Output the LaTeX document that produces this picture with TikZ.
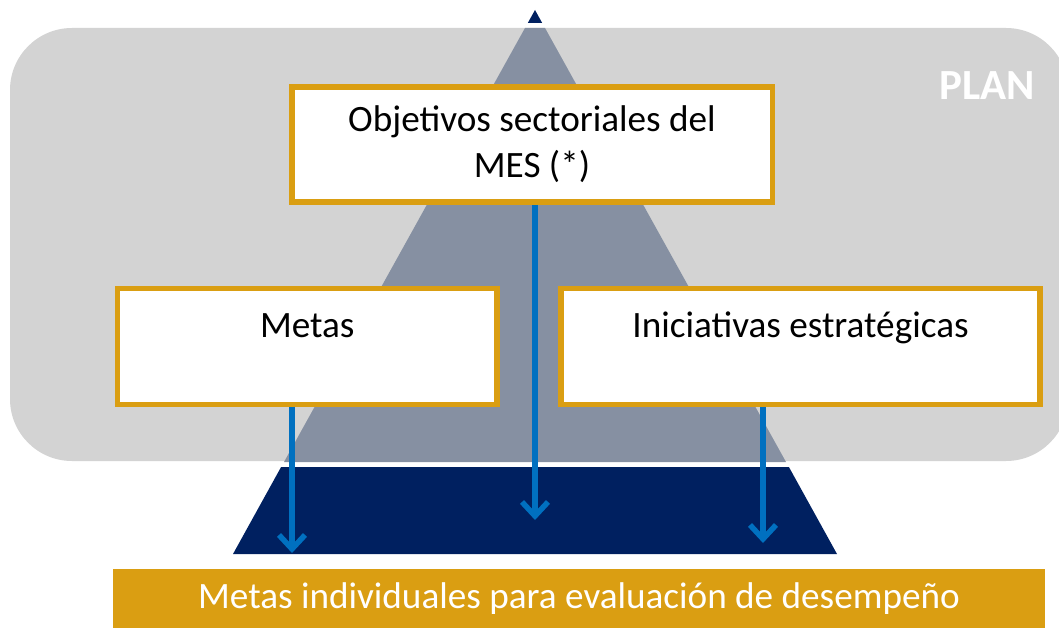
\documentclass[tikz,border=0pt]{standalone}
\usepackage{fontspec}
\setmainfont{Carlito}
\usetikzlibrary{positioning, arrows.meta}
\definecolor{planGray}{HTML}{D3D3D3}
\definecolor{slate}{HTML}{8690A2}
\definecolor{navy}{HTML}{002060}
\definecolor{gold}{HTML}{DA9E12}
\definecolor{arrowBlue}{HTML}{0070C0}

\begin{document}
\begin{tikzpicture}[
	x=1pt, y=-1pt,
	node distance = 58.5pt and 58.5pt,
	box/.style = {rectangle, draw=gold, fill=white, line width=5.5pt,
		inner sep=0pt, minimum width=#1, font=\fontsize{37.2}{46}\selectfont},
	goal/.style = {box=#1, text height=48.5pt, text depth=67.5pt},
	down/.style = {draw=arrowBlue, line width=5.5pt,
		-{Straight Barb[length=14pt, width=26pt]}}
	]
	\useasboundingbox (0,0) rectangle (1059,628);
	
	% plan area and pyramid
	\fill[planGray, rounded corners=62pt] (10,28) rectangle (1068,461);
	\fill[navy] (535,10) -- (542.2,23) -- (527.8,23) -- cycle;
	\fill[slate] (525,28) -- (545,28) -- (786,462) -- (284,462) -- cycle;
	\fill[navy] (281.1,467) -- (788.9,467) -- (837,554) -- (233,554) -- cycle;
	
	\node (plan) [font=\fontsize{43}{50}\selectfont\bfseries, text=white] at (987,86) {PLAN};
	
	\node (obj) [box=480.5pt, minimum height=115pt, align=center] at (532,144.5)
		{Objetivos sectoriales del\\MES (*)};
	\node (metas) [goal=379.5pt] at (307.25,346.5) {Metas};
	\node (inic) [goal=479pt, right=of metas] {Iniciativas estratégicas};
	
	\node (indiv) [fill=gold, text=white, inner sep=0pt, minimum width=932pt,
		minimum height=59pt, font=\fontsize{37.2}{46}\selectfont] at (579,598.5)
		{Metas individuales para evaluación de desempeño};
	%
	\coordinate (t1) at (292,553);
	\coordinate (t2) at (535,520);
	\coordinate (t3) at (763,543);
	\draw[down] (metas.south -| t1) -- (t1);
	\draw[down] (obj.south -| t2) -- (t2);
	\draw[down] (inic.south -| t3) -- (t3);
\end{tikzpicture}
\end{document}
